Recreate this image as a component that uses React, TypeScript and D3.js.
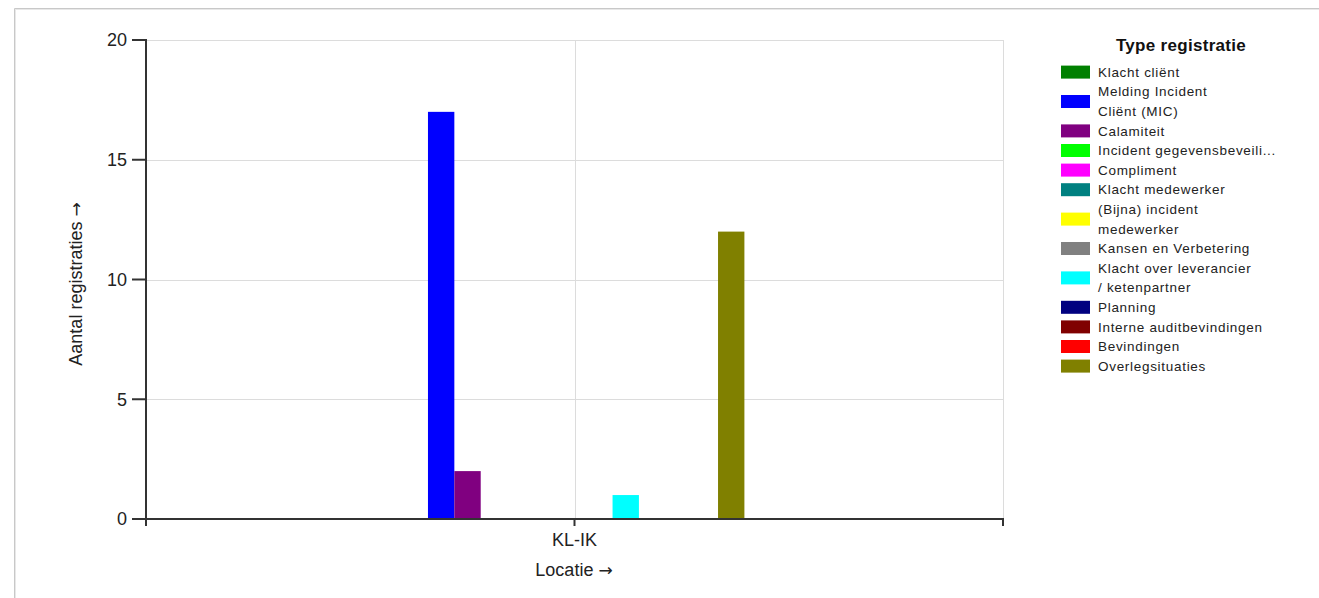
import React from "react";
import * as d3 from "d3";

const categories = ["KL-IK"];
const seriesNames = [
  "Klacht cliënt",
  "Melding Incident Cliënt (MIC)",
  "Calamiteit",
  "Incident gegevensbeveiliging",
  "Compliment",
  "Klacht medewerker",
  "(Bijna) incident medewerker",
  "Kansen en Verbetering",
  "Klacht over leverancier / ketenpartner",
  "Planning",
  "Interne auditbevindingen",
  "Bevindingen",
  "Overlegsituaties",
];
const legendLabels: string[][] = [
  ["Klacht cliënt"],
  ["Melding Incident", "Cliënt (MIC)"],
  ["Calamiteit"],
  ["Incident gegevensbeveili..."],
  ["Compliment"],
  ["Klacht medewerker"],
  ["(Bijna) incident", "medewerker"],
  ["Kansen en Verbetering"],
  ["Klacht over leverancier", "/ ketenpartner"],
  ["Planning"],
  ["Interne auditbevindingen"],
  ["Bevindingen"],
  ["Overlegsituaties"],
];
const seriesColors = [
  "#008000", "#0000FF", "#800080", "#00FF00", "#FF00FF", "#008080", "#FFFF00",
  "#808080", "#00FFFF", "#000080", "#800000", "#FF0000", "#808000",
];
// values per series for category KL-IK
const values = [0, 17, 2, 0, 0, 0, 0, 0, 1, 0, 0, 0, 12];
const yTicks = [0, 5, 10, 15, 20];

const W = 1319;
const H = 598;
const left = 146;
const right = 1003;
const top = 40;
const bottom = 519;
const font = "'Liberation Sans', Arial, sans-serif";
const arrowFont = "'DejaVu Sans', sans-serif";

export default function App() {
  const x = d3.scaleBand<string>().domain(categories).range([left, right]).padding(0);
  const y = d3.scaleLinear().domain([0, 20]).range([bottom, top]);
  const bw = x.bandwidth();

  const legendX = 1061;
  const legendTop = 62.3;
  const lineH = 19.6;
  let acc = 0;
  const legendRows = legendLabels.map((lines, i) => {
    const rowTop = legendTop + acc * lineH;
    acc += lines.length;
    return { lines, i, rowTop, h: lines.length * lineH };
  });

  return (
    <div style={{ position: "absolute", left: 0, top: 0 }}>
      <svg width={W} height={H} style={{ display: "block", background: "#fff" }}>
        {/* frame */}
        <line x1={14.5} y1={8.5} x2={W} y2={8.5} stroke="#c8c8c8" />
        <line x1={15} y1={9.5} x2={W} y2={9.5} stroke="#e8e8e8" />
        <line x1={14.5} y1={8.5} x2={14.5} y2={H} stroke="#c8c8c8" />
        <line x1={15.5} y1={9.5} x2={15.5} y2={H} stroke="#e8e8e8" />

        {/* horizontal grid */}
        {yTicks.map((t) => (
          <line key={"g" + t} x1={left} x2={right} y1={Math.round(y(t)) + 0.5} y2={Math.round(y(t)) + 0.5} stroke="#dcdcdc" />
        ))}
        {/* vertical grid */}
        {categories.map((c) => (
          <line key={"vg" + c} x1={Math.round((x(c) as number) + bw / 2) + 0.5} x2={Math.round((x(c) as number) + bw / 2) + 0.5} y1={top} y2={bottom} stroke="#dcdcdc" />
        ))}
        <line x1={right + 0.5} x2={right + 0.5} y1={top} y2={bottom} stroke="#dcdcdc" />

        {/* bars */}
        {categories.map((c) => {
          const center = (x(c) as number) + bw / 2 - 1.5;
          const gw = bw * 0.4;
          const inner = d3.scaleBand<number>().domain(d3.range(seriesNames.length)).range([center - gw / 2, center + gw / 2]).padding(0);
          return (
            <g key={"b" + c}>
              {values.map((v, i) =>
                v > 0 ? (
                  <rect
                    key={i}
                    x={inner(i) as number}
                    y={y(v)}
                    width={inner.bandwidth()}
                    height={y(0) - y(v)}
                    fill={seriesColors[i]}
                  />
                ) : null
              )}
            </g>
          );
        })}

        {/* axes */}
        <line x1={left} x2={left} y1={top - 1} y2={bottom + 7} stroke="#333" strokeWidth={2} />
        <line x1={left - 1} x2={right + 1} y1={bottom} y2={bottom} stroke="#333" strokeWidth={2} />
        {yTicks.map((t) => (
          <g key={"t" + t}>
            <line x1={left - 14} x2={left} y1={y(t)} y2={y(t)} stroke="#333" strokeWidth={2} />
            <text x={127} y={y(t)} dy="0.35em" textAnchor="end" fontFamily={font} fontSize={18} fill="#222">
              {t}
            </text>
          </g>
        ))}
        {categories.map((c) => {
          const cx = (x(c) as number) + bw / 2;
          return (
            <g key={"xt" + c}>
              <line x1={cx} x2={cx} y1={bottom} y2={bottom + 7} stroke="#333" strokeWidth={2} />
              <text x={cx} y={546} textAnchor="middle" fontFamily={font} fontSize={18} fill="#222">
                {c}
              </text>
            </g>
          );
        })}
        <line x1={right} x2={right} y1={bottom} y2={bottom + 7} stroke="#333" strokeWidth={2} />

        <text x={574} y={576} textAnchor="middle" fontFamily={font} fontSize={18} fill="#222">
          Locatie <tspan fontFamily={arrowFont} fontSize={17}>→</tspan>
        </text>
        <text transform="translate(82,284) rotate(-90)" textAnchor="middle" fontFamily={font} fontSize={18} fill="#222">
          Aantal registraties <tspan fontFamily={arrowFont} fontSize={17}>→</tspan>
        </text>

        {/* legend */}
        <text x={1181} y={51} textAnchor="middle" fontFamily={font} fontSize={17} letterSpacing={0.3} fontWeight="bold" fill="#111">
          Type registratie
        </text>
        {legendRows.map((r) => (
          <g key={"l" + r.i}>
            <rect x={legendX} y={r.rowTop + r.h / 2 - 6.5} width={29} height={13} fill={seriesColors[r.i]} />
            {r.lines.map((ln, k) => (
              <text
                key={k}
                x={1098}
                y={r.rowTop + k * lineH + lineH / 2}
                dy="0.35em"
                fontFamily={font}
                fontSize={13.5}
                letterSpacing={0.7}
                fill="#222"
              >
                {ln}
              </text>
            ))}
          </g>
        ))}
      </svg>
    </div>
  );
}
